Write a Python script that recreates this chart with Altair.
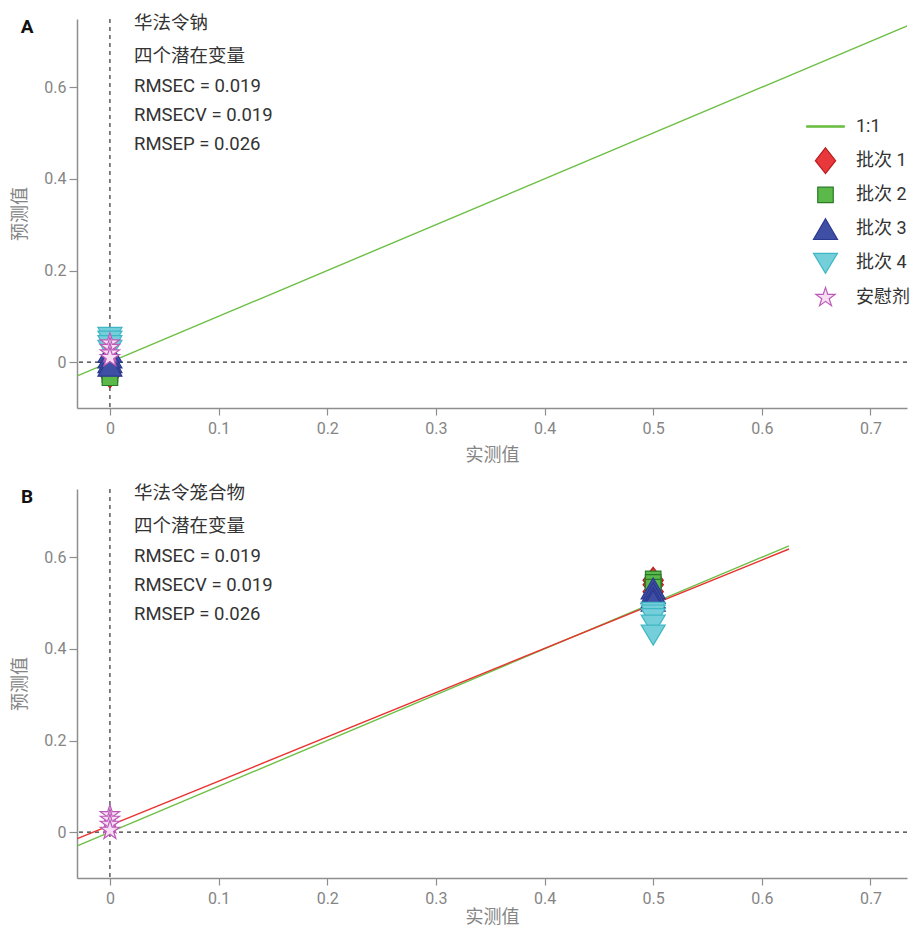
import altair as alt
import pandas as pd

FONT = "Roboto, Noto Sans CJK SC"

# ---------------- data ----------------
series_names = ["批次 1", "批次 2", "批次 3", "批次 4", "安慰剂"]
legend_domain = ["1:1", "批次 1", "批次 2", "批次 3", "批次 4", "安慰剂"]

x_ticks = [0, 0.1, 0.2, 0.3, 0.4, 0.5, 0.6, 0.7]
y_ticks = [0, 0.2, 0.4, 0.6]
x_domain = [-0.0303, 0.7336]
y_domain = [-0.1, 0.749]

# Panel A: 华法令钠 (all actual values are 0)
a_b1_pred = [-0.012, -0.020, -0.028]
a_b2_pred = [-0.018, -0.026, -0.034]
a_b3_pred = [0.022, 0.010, 0.000, -0.008]
a_b4_pred = [0.054, 0.046, 0.036, 0.026]
a_pl_pred = [0.042, 0.032, 0.020, 0.010]
a_actual = {"批次 1": 0.0, "批次 2": 0.0, "批次 3": 0.0, "批次 4": 0.0, "安慰剂": 0.0}

# Panel B: 华法令笼合物
b_b1_pred = [0.550, 0.540, 0.525, 0.510]
b_b2_pred = [0.553, 0.545, 0.535]
b_b3_pred = [0.532, 0.522, 0.512, 0.505]
b_b4_pred = [0.480, 0.474, 0.466, 0.452, 0.430]
b_pl_pred = [0.038, 0.028, 0.017, 0.004]
b_actual = {"批次 1": 0.5, "批次 2": 0.5, "批次 3": 0.5, "批次 4": 0.5, "安慰剂": 0.0}

ident_a = [-0.03, 0.75]
ident_b = [-0.03, 0.625]
reg_b_x = [-0.03, 0.625]
reg_b_y = [-0.014, 0.618]

texts_a = ["华法令钠", "四个潜在变量", "RMSEC = 0.019", "RMSECV = 0.019", "RMSEP = 0.026"]
texts_b = ["华法令笼合物", "四个潜在变量", "RMSEC = 0.019", "RMSECV = 0.019", "RMSEP = 0.026"]
text_y = [4, 37, 67, 96, 125]

# ---------------- styles ----------------
PAD = "M0,-1.12M0,1.12"
shape_range = [
    PAD + "M-1.5,-0.06L1.5,-0.06L1.5,0.06L-1.5,0.06Z",
    PAD + "M0,-1.03L0.81,0L0,1.03L-0.81,0Z",
    PAD + "M-0.62,-0.62L0.62,-0.62L0.62,0.62L-0.62,0.62Z",
    PAD + "M0,-0.83L0.96,0.83L-0.96,0.83Z",
    PAD + "M0,0.8L0.96,-0.8L-0.96,-0.8Z",
    PAD + "M0,-0.81L0.182,-0.251L0.770,-0.250L0.295,0.096L0.476,0.655L0,0.31L-0.476,0.655L-0.295,0.096L-0.770,-0.250L-0.182,-0.251Z",
]
fill_range = ["#6dbf45", "#e8383b", "#5bb94a", "#3f4fa3", "#74cfdb", "#f7def3"]
stroke_range = ["#6dbf45", "#b71c1c", "#2a7a2a", "#2b3990", "#3fb6c4", "#bb5bb8"]
LINE_GREEN = "#6dbf45"
LINE_RED = "#e8322f"


def points_df(actual, preds):
    rows = []
    for name, vals in zip(series_names, preds):
        for v in vals:
            rows.append({"series": name, "actual": actual[name], "predicted": v})
    return pd.DataFrame(rows)


df_a = points_df(a_actual, [a_b1_pred, a_b2_pred, a_b3_pred, a_b4_pred, a_pl_pred])
df_b = points_df(b_actual, [b_b1_pred, b_b2_pred, b_b3_pred, b_b4_pred, b_pl_pred])


def panel(df_pts, letter, texts, show_legend, x_title_pad, extra_lines):
    X = alt.X(
        "actual:Q",
        scale=alt.Scale(domain=x_domain, nice=False, zero=False),
        axis=alt.Axis(values=x_ticks, format="~g", title="实测值", grid=False,
                      tickSize=7, labelPadding=5, titlePadding=x_title_pad),
    )
    Y = alt.Y(
        "predicted:Q",
        scale=alt.Scale(domain=y_domain, nice=False, zero=False),
        axis=alt.Axis(values=y_ticks, format="~g", title="预测值", grid=False,
                      tickSize=8, labelPadding=3, titlePadding=14),
    )
    vrule = alt.Chart(pd.DataFrame({"actual": [0.0]})).mark_rule(
        strokeDash=[4, 4], color="#333333", strokeWidth=1.2).encode(x=X)
    hrule = alt.Chart(pd.DataFrame({"predicted": [0.0]})).mark_rule(
        strokeDash=[4, 4], color="#333333", strokeWidth=1.2).encode(y=Y)

    layers = [vrule, hrule]
    for (lx, ly, col) in extra_lines:
        ldf = pd.DataFrame({"actual": lx, "predicted": ly})
        layers.append(alt.Chart(ldf).mark_line(clip=True, color=col, strokeWidth=1.4).encode(x=X, y=Y))

    if show_legend:
        leg = alt.Legend(orient="none", legendX=735, legendY=94, direction="vertical", title=None,
                         symbolSize=625, symbolStrokeWidth=1.2, labelFontSize=18, labelColor="#333333",
                         labelFont=FONT, rowPadding=1.2, labelOffset=17, symbolOpacity=1, padding=0)
    else:
        leg = None
    sh = alt.Shape("series:N", scale=alt.Scale(domain=legend_domain, range=shape_range), legend=leg)
    fi = alt.Fill("series:N", scale=alt.Scale(domain=legend_domain, range=fill_range), legend=leg)
    st = alt.Stroke("series:N", scale=alt.Scale(domain=legend_domain, range=stroke_range), legend=leg)
    pts = alt.Chart(df_pts).mark_point(filled=True, opacity=1, strokeWidth=1.2, size=625).encode(
        x=X, y=Y, shape=sh, fill=fi, stroke=st)
    layers.append(pts)

    for label, ty in zip(texts, text_y):
        layers.append(
            alt.Chart(alt.Data(values=[{}])).mark_text(
                text=label, align="left", baseline="middle", fontSize=18.5, color="#333333", font=FONT
            ).encode(x=alt.value(57), y=alt.value(ty))
        )
    layers.append(
        alt.Chart(alt.Data(values=[{}])).mark_text(
            text=letter, align="center", baseline="middle", fontSize=19, fontWeight="bold",
            color="#111111", font=FONT
        ).encode(x=alt.value(-50), y=alt.value(8))
    )
    return alt.layer(*layers).properties(width=830, height=389)


panel_a = panel(df_a, "A", texts_a, True, 10, [(ident_a, ident_a, LINE_GREEN)])
panel_b = panel(df_b, "B", texts_b, False, 2,
                [(ident_b, ident_b, LINE_GREEN), (reg_b_x, reg_b_y, LINE_RED)])

chart = (
    alt.vconcat(panel_a, panel_b, spacing=20)
    .resolve_scale(fill="independent", stroke="independent", shape="independent")
    .properties(padding={"left": 3, "top": 6, "right": 0, "bottom": 0})
    .configure(font=FONT)
    .configure_view(stroke=None)
    .configure_axis(
        domainColor="#8e8e8e", domainWidth=1.5, tickColor="#8e8e8e", tickWidth=1.2,
        labelColor="#858585", labelFontSize=16, labelFont=FONT,
        titleColor="#858585", titleFontSize=18, titleFontWeight="normal", titleFont=FONT,
    )
)

chart.save("out.html", embed_options={"renderer": "svg", "actions": False})
